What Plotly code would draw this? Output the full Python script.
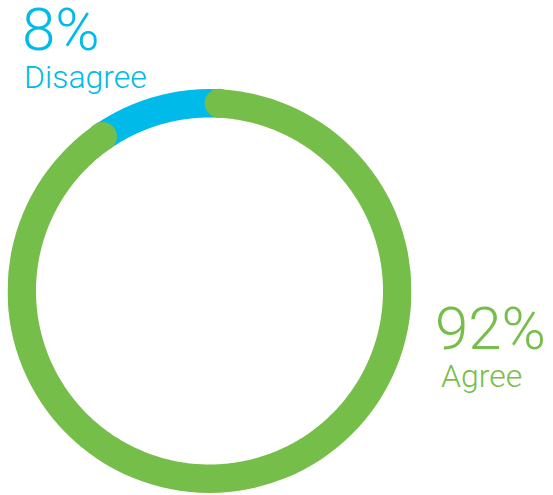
import numpy as np
import plotly.graph_objects as go

# ---- data ----
categories = ["Agree", "Disagree"]
values = [92, 8]
labels_pct = ["92%", "8%"]
colors = ["#76BE4A", "#00BAE9"]

# ---- geometry / style ----
W, H = 553, 495
ring_r = 188          # mid radius in px (radial range == px)
ring_w = 29           # ring thickness px
start_deg = -1.5      # where the Agree arc begins (clockwise from top)
cap = np.degrees((ring_w / 2) / ring_r)

total = sum(values)
agree_span = values[0] / total * 360.0

g0 = start_deg + cap
g1 = start_deg + agree_span - cap
b0 = start_deg + agree_span - cap
b1 = start_deg + 360.0 + cap

def arc(a, b, n=400):
    t = np.linspace(a, b, n)
    return t, np.full_like(t, ring_r)

fig = go.Figure()

tb, rb = arc(b0, b1)
fig.add_trace(go.Scatterpolar(theta=tb, r=rb, mode="lines",
                              line=dict(color=colors[1], width=ring_w),
                              hoverinfo="skip", showlegend=False))
tg, rg = arc(g0, g1)
fig.add_trace(go.Scatterpolar(theta=tg, r=rg, mode="lines",
                              line=dict(color=colors[0], width=ring_w),
                              hoverinfo="skip", showlegend=False))
fig.add_trace(go.Scatterpolar(theta=[g0, g1], r=[ring_r, ring_r], mode="markers",
                              marker=dict(color=colors[0], size=ring_w, line=dict(width=0)),
                              hoverinfo="skip", showlegend=False))

x0, x1 = 7, 412
y0, y1 = 89, 493
fig.update_layout(
    width=W, height=H,
    margin=dict(l=0, r=0, t=0, b=0),
    paper_bgcolor="white",
    plot_bgcolor="white",
    polar=dict(
        domain=dict(x=[x0 / W, x1 / W], y=[1 - y1 / H, 1 - y0 / H]),
        bgcolor="rgba(0,0,0,0)",
        radialaxis=dict(range=[0, 202], visible=False),
        angularaxis=dict(visible=False, rotation=90, direction="clockwise"),
    ),
)

font_family = "Roboto"
ann = [
    dict(text=labels_pct[1], x=21 / W, y=1 - 29 / H, size=60, color=colors[1]),
    dict(text=categories[1], x=23 / W, y=1 - 77 / H, size=32, color=colors[1]),
    dict(text=labels_pct[0], x=434 / W, y=1 - 328 / H, size=60, color=colors[0]),
    dict(text=categories[0], x=440 / W, y=1 - 376 / H, size=32, color=colors[0]),
]
for a in ann:
    fig.add_annotation(text=a["text"], x=a["x"], y=a["y"], xref="paper", yref="paper",
                       xanchor="left", yanchor="middle", showarrow=False, borderpad=0,
                       font=dict(family=font_family, size=a["size"], color=a["color"], weight=300))

fig.write_html("out.html", config={"displayModeBar": False},
               post_script="document.body.style.margin='0';document.body.style.padding='0';")
